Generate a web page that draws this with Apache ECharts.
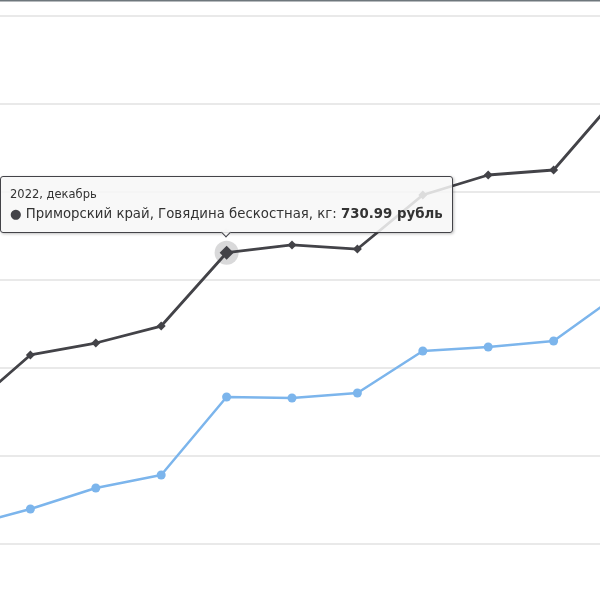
<!DOCTYPE html>
<html lang="ru">

<head>
    <meta charset="UTF-8">
    <script src="https://cdn.jsdelivr.net/npm/echarts@6/dist/echarts.min.js"></script>
    <style>
        html, body {
            margin: 0;
            padding: 0;
            background: #fff;
            overflow: hidden;
            width: 600px;
            height: 600px;
        }

        /* крайние месяцы уходят за края картинки */
        #chart {
            position: absolute;
            left: -35px;
            top: 0;
            width: 654px;
            height: 600px;
        }
    </style>
</head>

<body>
    <div id="chart"></div>
    <script>
        var months = ['2022, август', '2022, сентябрь', '2022, октябрь', '2022, ноябрь', '2022, декабрь',
            '2023, январь', '2023, февраль', '2023, март', '2023, апрель', '2023, май', '2023, июнь']
        var primorye = [550.0, 614.8, 628.4, 647.7, 730.99, 739.8, 735.2, 796.6, 819.3, 825.0, 910.8]
        var russia = [419.9, 439.8, 463.6, 478.4, 567.0, 565.9, 571.6, 619.3, 623.9, 630.7, 684.0]
        var seriesNames = ['Приморский край, Говядина бескостная, кг', 'Российская Федерация, Говядина бескостная, кг']
        var yTicks = [400, 500, 600, 700, 800, 900, 1000]
        var hoverIdx = 4

        var dark = '#434348'
        var blue = '#7cb5ec'

        var darkData = primorye.map(function (v, i) {
            return i === hoverIdx ? { value: v, symbolSize: 14 } : v
        })

        var chart = echarts.init(document.getElementById('chart'))
        chart.setOption({
            animation: false,
            graphic: [{
                type: 'rect',
                left: 0,
                top: 0,
                shape: { width: 654, height: 1.5 },
                style: { fill: '#6e777c' }
            }],
            grid: {
                left: 0,
                right: 0,
                top: 16,
                bottom: 56
            },
            xAxis: {
                type: 'category',
                data: months,
                boundaryGap: false,
                axisLine: { show: false },
                axisTick: { show: false },
                axisLabel: { show: false }
            },
            yAxis: {
                type: 'value',
                min: yTicks[0],
                max: yTicks[yTicks.length - 1],
                interval: 100,
                axisLabel: { show: false },
                splitLine: { lineStyle: { color: '#e2e2e2', width: 1.5 } }
            },
            tooltip: {
                trigger: 'item',
                triggerOn: 'none',
                alwaysShowContent: true,
                position: 'top',
                transitionDuration: 0,
                backgroundColor: 'rgba(247,247,247,0.85)',
                borderColor: dark,
                borderWidth: 1,
                padding: [8, 9],
                extraCssText: 'border-radius:3px;margin-top:-3px;box-shadow:1px 1px 3px rgba(0,0,0,0.25);',
                textStyle: { color: '#333', fontFamily: 'DejaVu Sans', fontSize: 13.3 },
                formatter: function (p) {
                    return '<div style="font-size:11.5px;line-height:18px">' + months[p.dataIndex] + '</div>' +
                        '<div style="line-height:21px"><span style="color:' + dark + '">●</span> ' +
                        p.seriesName + ': <b>' + p.value + ' рубль</b></div>'
                }
            },
            series: [
                {
                    name: 'halo',
                    type: 'scatter',
                    data: [[hoverIdx, primorye[hoverIdx]]],
                    symbol: 'circle',
                    symbolSize: 24,
                    itemStyle: { color: 'rgba(67,67,72,0.25)' },
                    silent: true,
                    z: 1,
                    tooltip: { show: false }
                },
                {
                    name: seriesNames[0],
                    type: 'line',
                    data: darkData,
                    symbol: 'diamond',
                    symbolSize: 9,
                    showAllSymbol: true,
                    color: dark,
                    lineStyle: { width: 2.8 },
                    z: 3
                },
                {
                    name: seriesNames[1],
                    type: 'line',
                    data: russia,
                    symbol: 'circle',
                    symbolSize: 9,
                    showAllSymbol: true,
                    color: blue,
                    lineStyle: { width: 2.5 },
                    z: 2
                }
            ]
        })

        chart.dispatchAction({ type: 'showTip', seriesIndex: 1, dataIndex: hoverIdx })
    </script>
</body>

</html>
